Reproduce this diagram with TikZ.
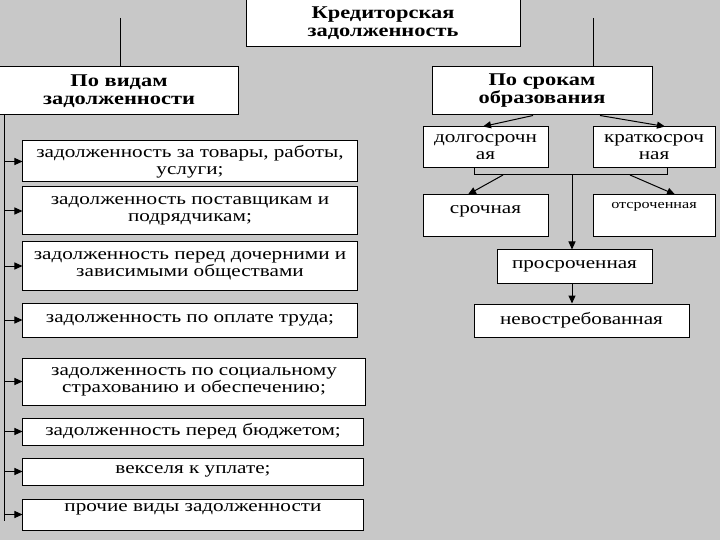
\documentclass[tikz,border=0pt]{standalone}
\usepackage{fontspec}
\setmainfont{Liberation Serif}[FakeStretch=1.25]
\usetikzlibrary{arrows.meta}
\definecolor{bg}{RGB}{200,200,200}
\begin{document}
\begin{tikzpicture}[x=1bp,y=-1bp,
  box/.style={draw=black, fill=white, line width=1bp, inner sep=0pt, align=center,
    font=\fontsize{17}{17}\selectfont},
  head/.style={box, font=\bfseries\fontsize{18}{18}\selectfont},
  rbx/.style={box, font=\fontsize{17}{17}\selectfont},
  arr/.style={line width=1bp, -{Triangle[length=8bp,width=7bp]}},
  ln/.style={line width=1bp}]
\fill[bg] (0,0) rectangle (720,540);
\useasboundingbox (0,0) rectangle (720,540);

% top level
\node[head, minimum width=274bp, minimum height=47bp] (top) at (383,23.5) {Кредиторская\\задолженность};
\node[head, minimum width=238bp, minimum height=48bp] (lbox) at (119,91) {По видам\\задолженности};
\node[head, minimum width=220bp, minimum height=48bp] (rbox) at (542,91) {По срокам\\образования};

\coordinate (lt) at (120,18);
\coordinate (rt) at (593,18);
\draw[ln] (lt) -- (lt |- lbox.north);
\draw[ln] (rt) -- (rt |- rbox.north);

% left column
\node[box, minimum width=334bp, minimum height=41bp] (b1) at (190,161.5) {задолженность за товары, работы,\\услуги;};
\node[box, minimum width=334bp, minimum height=48bp] (b2) at (190,211) {задолженность поставщикам и\\подрядчикам;};
\node[box, minimum width=334bp, minimum height=48bp] (b3) at (190,266) {задолженность перед дочерними и\\зависимыми обществами};
\node[box, minimum width=334bp, minimum height=34bp] (b4) at (190,320) {задолженность по оплате труда;};
\node[box, minimum width=342bp, minimum height=47bp] (b5) at (194,381.5) {задолженность по социальному\\страхованию и обеспечению;};
\node[box, minimum width=340bp, minimum height=27bp] (b6) at (193,431.5) {задолженность перед бюджетом;};
\node[box, minimum width=340bp, minimum height=27bp] (b7) at (193,471.5) {векселя к уплате;};
\node[box, minimum width=340bp, minimum height=31bp, text depth=14bp] (b8) at (193,514.5) {прочие виды задолженности};

\coordinate (sp) at (4,115);
\coordinate (spb) at (4,521);
\draw[ln] (sp) -- (spb);
\foreach \b in {b1,b2,b3,b4,b5,b6,b7,b8}
  \draw[arr] (sp |- \b.west) -- (\b.west);

% right column
\node[rbx, minimum width=125bp, minimum height=41bp] (dolg) at (485.5,147.5) {долгосрочн\\ая};
\node[rbx, minimum width=122bp, minimum height=41bp] (krat) at (654,147.5) {краткосроч\\ная};
\node[rbx, minimum width=125bp, minimum height=42bp, text depth=12bp] (sroch) at (485.5,216) {срочная};
\node[box, font=\fontsize{13}{13}\selectfont, minimum width=122bp, minimum height=42bp, text depth=22bp] (otsr) at (654,216) {отсроченная};
\node[rbx, minimum width=155bp, minimum height=33bp] (prosr) at (574.5,266.5) {просроченная};
\node[rbx, minimum width=215bp, minimum height=33bp] (nevos) at (581.5,320.5) {невостребованная};

\draw[arr] ([xshift=-9bp]rbox.south) -- ([xshift=-2.5bp]dolg.north);
\draw[arr] ([xshift=58bp]rbox.south) -- ([xshift=11bp]krat.north);

\coordinate (bl) at (474,175);
\coordinate (br) at (667,175);
\coordinate (bm) at (572,175);
\coordinate (s1) at (503,175);
\coordinate (s2) at (630,175);
\draw[ln] (bl |- dolg.south) -- (bl) -- (br) -- (br |- krat.south);
\draw[arr] (bm) -- (bm |- prosr.north);
\draw[arr] (s1) -- ([xshift=-17.5bp]sroch.north);
\draw[arr] (s2) -- ([xshift=21bp]otsr.north);
\draw[arr] (bm |- prosr.south) -- (bm |- nevos.north);
\end{tikzpicture}
\end{document}
